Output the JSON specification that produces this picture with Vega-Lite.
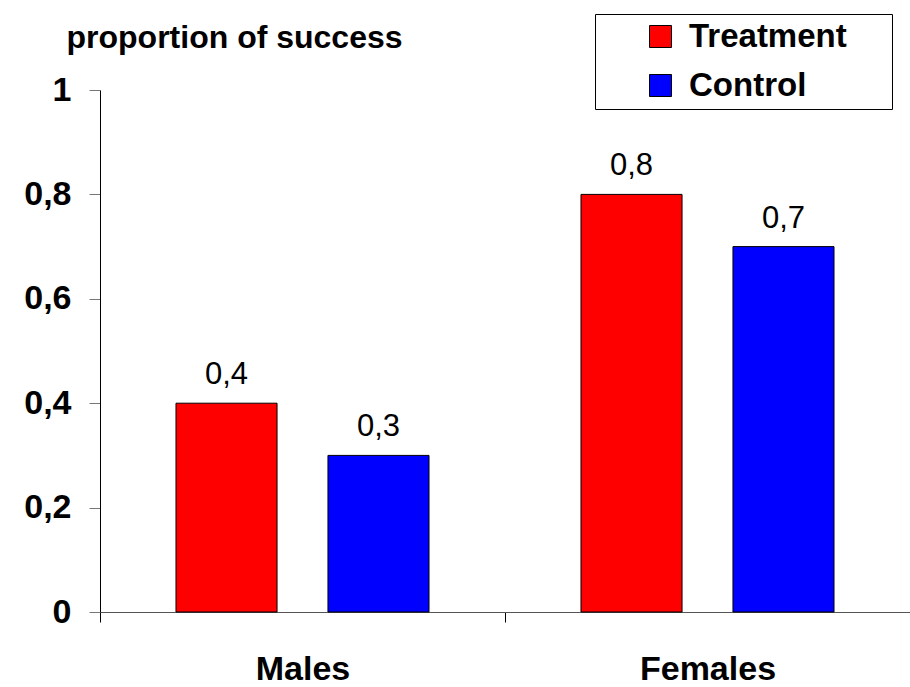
{
  "$schema": "https://vega.github.io/schema/vega-lite/v6.json",
  "width": 810,
  "height": 522,
  "autosize": "none",
  "padding": {"left": 100, "top": 90, "right": 0, "bottom": 75},
  "background": "white",
  "config": {
    "view": {"stroke": null},
    "font": "Liberation Sans",
    "locale": {"number": {"decimal": ",", "thousands": ".", "grouping": [3], "currency": ["", " €"]}}
  },
  "data": {
    "values": [
      {"group": "Males", "arm": "Treatment", "value": 0.4},
      {"group": "Males", "arm": "Control", "value": 0.3},
      {"group": "Females", "arm": "Treatment", "value": 0.8},
      {"group": "Females", "arm": "Control", "value": 0.7}
    ]
  },
  "encoding": {
    "x": {
      "field": "group",
      "type": "nominal",
      "sort": ["Males", "Females"],
      "scale": {"paddingInner": 0, "paddingOuter": 0},
      "axis": {
        "title": null,
        "labelAngle": 0,
        "labelFont": "Liberation Sans",
        "labelFontSize": 34,
        "labelFontWeight": "bold",
        "labelColor": "black",
        "labelBaseline": "alphabetic",
        "labelPadding": 57,
        "tickSize": 10,
        "tickBand": "extent",
        "tickColor": "black",
        "domainColor": "#555",
        "grid": false
      }
    },
    "xOffset": {
      "field": "arm",
      "type": "nominal",
      "sort": ["Treatment", "Control"],
      "scale": {"paddingInner": 0.335, "paddingOuter": 0.5}
    },
    "y": {
      "field": "value",
      "type": "quantitative",
      "scale": {"domain": [0, 1], "nice": false},
      "axis": {
        "title": "proportion of success",
        "titleAngle": 0,
        "titleAlign": "left",
        "titleBaseline": "alphabetic",
        "titleX": -34,
        "titleY": -43,
        "titleFont": "Liberation Sans",
        "titleFontSize": 32,
        "titleFontWeight": "bold",
        "titleColor": "black",
        "titleLimit": 600,
        "values": [0, 0.2, 0.4, 0.6, 0.8, 1],
        "format": ".1~f",
        "labelFont": "Liberation Sans",
        "labelFontSize": 34,
        "labelFontWeight": "bold",
        "labelColor": "black",
        "labelPadding": 18,
        "tickSize": 11,
        "tickColor": "#777",
        "domainColor": "black",
        "grid": false
      }
    }
  },
  "layer": [
    {
      "mark": {"type": "bar", "stroke": "black", "strokeWidth": 1},
      "encoding": {
        "color": {
          "field": "arm",
          "type": "nominal",
          "sort": ["Treatment", "Control"],
          "scale": {"domain": ["Treatment", "Control"], "range": ["#FF0000", "#0000FF"]},
          "legend": {
            "title": "\u00a0",
            "titleOrient": "right",
            "titlePadding": 39,
            "titleFontSize": 2,
            "orient": "none",
            "legendX": 495,
            "legendY": -76,
            "direction": "vertical",
            "fillColor": "white",
            "strokeColor": "black",
            "padding": 6,
            "symbolOffset": 43,
            "symbolType": "square",
            "symbolSize": 484,
            "symbolStrokeColor": "black",
            "symbolStrokeWidth": 1,
            "symbolOpacity": 1,
            "labelFont": "Liberation Sans",
            "labelFontSize": 33,
            "labelFontWeight": "bold",
            "labelColor": "black",
            "labelOffset": 12,
            "labelLimit": 500,
            "rowPadding": 15
          }
        }
      }
    },
    {
      "mark": {"type": "text", "baseline": "alphabetic", "dy": -19, "fontSize": 31, "font": "Liberation Sans", "color": "black"},
      "encoding": {
        "text": {"field": "value", "type": "quantitative", "format": ".1f"}
      }
    }
  ]
}
